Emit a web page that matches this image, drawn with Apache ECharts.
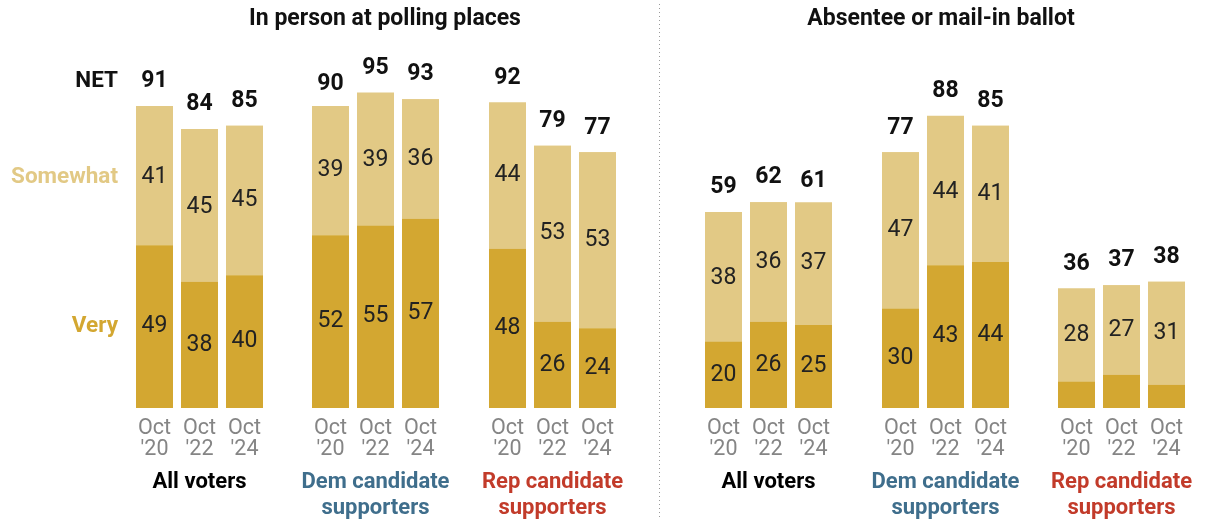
<!DOCTYPE html>
<html>
<head>
<meta charset="utf-8">
<title>Voter confidence that votes will be counted accurately</title>
<script src="https://cdn.jsdelivr.net/npm/echarts@6/dist/echarts.min.js"></script>
<style>
  html, body { margin: 0; padding: 0; background: #fff; }
  #chart { width: 1211px; height: 521px; }
</style>
</head>
<body>
<div id="chart"></div>
<script>
// Panel titles, groups and survey waves
const panelTitles = ['In person at polling places', 'Absentee or mail-in ballot'];
const groupNames = ['All voters', 'Dem candidate\nsupporters', 'Rep candidate\nsupporters'];
const groupColors = ['#000000', '#3F6E8C', '#C23B2A'];
const waves = ["Oct\n'20", "Oct\n'22", "Oct\n'24"];

// In person at polling places (per group: Oct '20, Oct '22, Oct '24)
const inPersonVery     = [[49, 38, 40], [52, 55, 57], [48, 26, 24]];
const inPersonSomewhat = [[41, 45, 45], [39, 39, 36], [44, 53, 53]];
const inPersonNet      = [[91, 84, 85], [90, 95, 93], [92, 79, 77]];

// Absentee or mail-in ballot
const mailVery     = [[20, 26, 25], [30, 43, 44], [8, 10, 7]];
const mailSomewhat = [[38, 36, 37], [47, 44, 41], [28, 27, 31]];
const mailNet      = [[59, 62, 61], [77, 88, 85], [36, 37, 38]];

const VERY = '#D3A731';
const SOMEWHAT = '#E2C985';
const FONT = 'Roboto, "Liberation Sans", sans-serif';

const panels = [
  { very: inPersonVery, somewhat: inPersonSomewhat, net: inPersonNet },
  { very: mailVery, somewhat: mailSomewhat, net: mailNet }
];

// Left edge of each group's plotting area
const gridLefts = [132, 308, 485, 701, 878, 1054];

const grids = [], xAxes = [], yAxes = [], series = [];
panels.forEach(function (p, pi) {
  groupNames.forEach(function (g, gi) {
    const k = pi * 3 + gi;
    grids.push({ left: gridLefts[k], top: 76, width: 135, height: 332,
                 containLabel: false, outerBoundsMode: 'none' });
    xAxes.push({
      type: 'category', gridIndex: k, data: waves,
      axisLine: { show: false }, axisTick: { show: false },
      axisLabel: { color: '#858585', fontSize: 21.5, lineHeight: 21, margin: 10, fontFamily: FONT },
      name: g, nameLocation: 'middle', nameGap: 61,
      nameTextStyle: { color: groupColors[gi], fontSize: 22, fontWeight: 'bold', lineHeight: 26, fontFamily: FONT }
    });
    yAxes.push({ type: 'value', gridIndex: k, min: 0, max: 100, show: false, splitLine: { show: false } });

    // NET bar behind the stacked segments
    series.push({
      type: 'bar', xAxisIndex: k, yAxisIndex: k, barWidth: 37, barGap: '-100%',
      data: p.net[gi], itemStyle: { color: SOMEWHAT },
      label: { show: true, position: 'top', distance: 13, color: '#111', fontSize: 23,
               fontWeight: 'bold', fontFamily: FONT }
    });
    series.push({
      type: 'bar', xAxisIndex: k, yAxisIndex: k, barWidth: 37, barGap: '-100%', stack: 'v' + k,
      data: p.very[gi], itemStyle: { color: VERY },
      label: { show: true, position: 'inside', color: '#222', fontSize: 23, fontFamily: FONT,
               formatter: function (d) { return d.value > 10 ? d.value : ''; } }
    });
    series.push({
      type: 'bar', xAxisIndex: k, yAxisIndex: k, barWidth: 37, barGap: '-100%', stack: 'v' + k,
      data: p.somewhat[gi], itemStyle: { color: SOMEWHAT },
      label: { show: true, position: 'inside', color: '#222', fontSize: 23, fontFamily: FONT }
    });
  });
});

const chart = echarts.init(document.getElementById('chart'), null, { renderer: 'canvas' });
chart.setOption({
  animation: false,
  backgroundColor: '#fff',
  title: [
    { text: panelTitles[0], left: 380, top: 3, textAlign: 'center',
      textStyle: { fontSize: 23, fontWeight: 'bold', color: '#111', fontFamily: FONT } },
    { text: panelTitles[1], left: 936, top: 3, textAlign: 'center',
      textStyle: { fontSize: 23, fontWeight: 'bold', color: '#111', fontFamily: FONT } }
  ],
  grid: grids, xAxis: xAxes, yAxis: yAxes, series: series
});

// Row labels beside the first bar, placed from its own values
const netPt = chart.convertToPixel({ xAxisIndex: 0, yAxisIndex: 0 }, [0, inPersonNet[0][0]]);
const verMid = chart.convertToPixel({ xAxisIndex: 0, yAxisIndex: 0 }, [0, inPersonVery[0][0] / 2]);
const somMid = chart.convertToPixel({ xAxisIndex: 0, yAxisIndex: 0 }, [0, inPersonVery[0][0] + inPersonSomewhat[0][0] / 2]);
const labelRight = netPt[0] - 37 / 2 - 18;
function sideLabel(text, y, color) {
  return { type: 'text', x: labelRight, y: y,
    style: { text: text, fill: color, font: 'bold 22.5px ' + FONT, align: 'right', verticalAlign: 'middle' } };
}
chart.setOption({
  graphic: [
    sideLabel('NET', netPt[1] - 25, '#111'),
    sideLabel('Somewhat', somMid[1], SOMEWHAT),
    sideLabel('Very', verMid[1], VERY),
    { type: 'line', shape: { x1: 659.5, y1: 4, x2: 659.5, y2: 518 },
      style: { stroke: '#9a9a9a', lineWidth: 1, lineDash: [1, 3] } }
  ]
});
</script>
</body>
</html>
